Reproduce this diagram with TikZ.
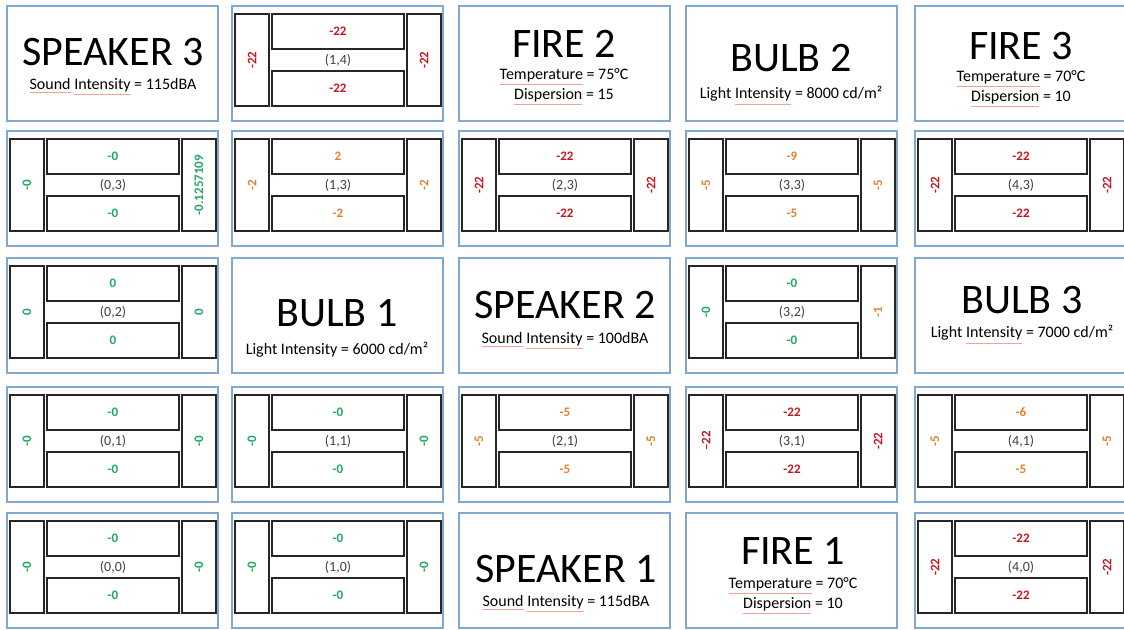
\documentclass[tikz,border=0pt]{standalone}
\usepackage{fontspec}
\setmainfont{Carlito}
\usepackage{tikz}

\definecolor{cellblue}{RGB}{128,168,208}
\definecolor{valgreen}{RGB}{34,168,96}
\definecolor{valred}{RGB}{200,22,32}
\definecolor{valorange}{RGB}{230,128,46}
\definecolor{taggray}{RGB}{64,64,64}
\definecolor{spellred}{RGB}{242,160,160}

\newcommand{\vG}[1]{\textcolor{valgreen}{#1}}
\newcommand{\vR}[1]{\textcolor{valred}{#1}}
\newcommand{\vO}[1]{\textcolor{valorange}{#1}}
\newcommand{\spl}[1]{{\color{spellred}\underline{\color{black}#1}}}

% #1 name, #2 #3 top left corner, #4 tag, #5 top, #6 bottom, #7 left, #8 right
\newcommand{\qcell}[8]{%
	\node[cellbox] (#1) at ({#2+105.5},{#3+57.5}) {};
	\node[sideblock] (#1-l) at ({#2+20},{#3+54}) {#7};
	\node[sideblock] (#1-r) at ({#2+192},{#3+54}) {#8};
	\node[midblock] (#1-t) at ({#2+106},{#3+25.5}) {#5};
	\node[midblock] (#1-b) at ({#2+106},{#3+82.5}) {#6};
	\node[celltag] (#1-c) at ({#2+106},{#3+54}) {#4};
}

\begin{document}
\begin{tikzpicture}[x=0.5pt,y=-0.5pt,
	cellbox/.style={draw=cellblue,line width=0.8pt,minimum width=105.5pt,minimum height=57.5pt,inner sep=0},
	blockline/.style={draw=black!85,line width=1pt,inner sep=0,font=\bfseries\fontsize{6.5}{8}\selectfont},
	sideblock/.style={blockline,rotate=90,minimum width=46pt,minimum height=17pt},
	midblock/.style={blockline,minimum width=66pt,minimum height=17.5pt},
	celltag/.style={inner sep=0,text=taggray,font=\fontsize{7}{8}\selectfont},
	title/.style={inner sep=0,font=\fontsize{21}{25}\selectfont},
	subtitle/.style={inner sep=0,align=center,font=\fontsize{8}{10}\selectfont}]
	  \path[use as bounding box,fill=white] (0,0) rectangle (1124,630);
	  \node[cellbox] (spk3) at (112.5,63.5) {};
	  \node[title] (spk3-n) at (113,52) {SPEAKER 3};
	  \node[subtitle] (spk3-s) at (113,87) {\spl{Sound} \spl{Intensity} = 115dBA};
	  \qcell{c14}{232}{6}{(1,4)}{\vR{-22}}{\vR{-22}}{\vR{-22}}{\vR{-22}}
	  \node[cellbox] (fire2) at (564.5,63.5) {};
	  \node[title] (fire2-n) at (564,44) {FIRE 2};
	  \node[subtitle] (fire2-s) at (564,87) {\spl{Temperature} = 75°C\\\spl{Dispersion} = 15};
	  \node[cellbox] (bulb2) at (791.5,63.5) {};
	  \node[title] (bulb2-n) at (791,58) {BULB 2};
	  \node[subtitle] (bulb2-s) at (791,96) {Light \spl{Intensity} = 8000 cd/m²};
	  \node[cellbox] (fire3) at (1020.5,63.5) {};
	  \node[title] (fire3-n) at (1021,46) {FIRE 3};
	  \node[subtitle] (fire3-s) at (1021,89) {\spl{Temperature} = 70°C\\\spl{Dispersion} = 10};
	  \qcell{c03}{7}{131}{(0,3)}{\vG{-0}}{\vG{-0}}{\vG{-0}}{\vG{-0.1257109}}
	  \qcell{c13}{232}{131}{(1,3)}{\vO{2}}{\vO{-2}}{\vO{-2}}{\vO{-2}}
	  \qcell{c23}{459}{131}{(2,3)}{\vR{-22}}{\vR{-22}}{\vR{-22}}{\vR{-22}}
	  \qcell{c33}{686}{131}{(3,3)}{\vO{-9}}{\vO{-5}}{\vO{-5}}{\vO{-5}}
	  \qcell{c43}{915}{131}{(4,3)}{\vR{-22}}{\vR{-22}}{\vR{-22}}{\vR{-22}}
	  \qcell{c02}{7}{258}{(0,2)}{\vG{0}}{\vG{0}}{\vG{0}}{\vG{0}}
	  \node[cellbox] (bulb1) at (337.5,315.5) {};
	  \node[title] (bulb1-n) at (337,313) {BULB 1};
	  \node[subtitle] (bulb1-s) at (337,350) {Light Intensity = 6000 cd/m²};
	  \node[cellbox] (spk2) at (564.5,315.5) {};
	  \node[title] (spk2-n) at (565,305) {SPEAKER 2};
	  \node[subtitle] (spk2-s) at (565,341) {\spl{Sound} \spl{Intensity} = 100dBA};
	  \qcell{c32}{686}{258}{(3,2)}{\vG{-0}}{\vG{-0}}{\vG{-0}}{\vO{-1}}
	  \node[cellbox] (bulb3) at (1020.5,315.5) {};
	  \node[title] (bulb3-n) at (1022,300) {BULB 3};
	  \node[subtitle] (bulb3-s) at (1022,335) {Light \spl{Intensity} = 7000 cd/m²};
	  \qcell{c01}{7}{387}{(0,1)}{\vG{-0}}{\vG{-0}}{\vG{-0}}{\vG{-0}}
	  \qcell{c11}{232}{387}{(1,1)}{\vG{-0}}{\vG{-0}}{\vG{-0}}{\vG{-0}}
	  \qcell{c21}{459}{387}{(2,1)}{\vO{-5}}{\vO{-5}}{\vO{-5}}{\vO{-5}}
	  \qcell{c31}{686}{387}{(3,1)}{\vR{-22}}{\vR{-22}}{\vR{--22}}{\vR{-22}}
	  \qcell{c41}{915}{387}{(4,1)}{\vO{-6}}{\vO{-5}}{\vO{-5}}{\vO{-5}}
	  \qcell{c00}{7}{513}{(0,0)}{\vG{-0}}{\vG{-0}}{\vG{-0}}{\vG{-0}}
	  \qcell{c10}{232}{513}{(1,0)}{\vG{-0}}{\vG{-0}}{\vG{-0}}{\vG{-0}}
	  \node[cellbox] (spk1) at (564.5,570.5) {};
	  \node[title] (spk1-n) at (566,569) {SPEAKER 1};
	  \node[subtitle] (spk1-s) at (566,604) {\spl{Sound} \spl{Intensity} = 115dBA};
	  \node[cellbox] (fire1) at (791.5,570.5) {};
	  \node[title] (fire1-n) at (793,551) {FIRE 1};
	  \node[subtitle] (fire1-s) at (793,596) {\spl{Temperature} = 70°C\\\spl{Dispersion} = 10};
	  \qcell{c40}{915}{513}{(4,0)}{\vR{-22}}{\vR{-22}}{\vR{-22}}{\vR{-22}}
	\end{tikzpicture}
\end{document}
